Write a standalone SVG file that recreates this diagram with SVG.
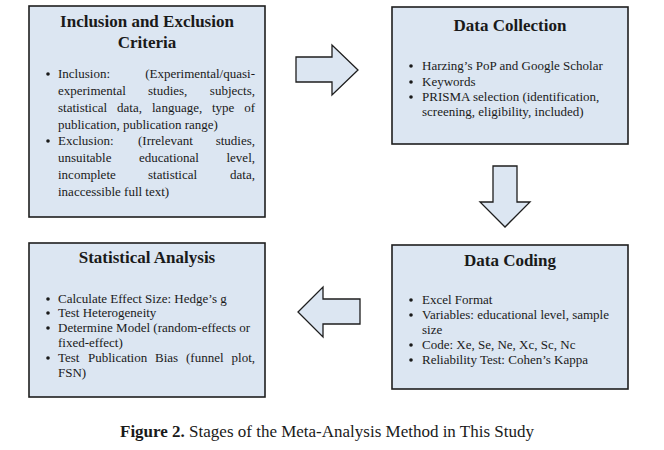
<svg xmlns="http://www.w3.org/2000/svg" width="664" height="450" viewBox="0 0 664 450">
<style>
.box{fill:#dce6f2;stroke:#1e1e1e;stroke-width:1.6}
.arr{fill:#dce6f2;stroke:#1e1e1e;stroke-width:1.3;stroke-linejoin:miter}
text{font-family:"Liberation Serif","Times New Roman",serif;fill:#1a1a1a}
.t{font-size:17px;font-weight:bold;text-anchor:middle}
.b{font-size:13px}
.e{text-anchor:end}
.cap{font-size:17px}
</style>
<rect width="664" height="450" fill="#ffffff"/>
<g id="connectors">
<polygon class="arr" points="296,57 332,57 332,45 358,70 332,95 332,82 296,82"/>
<polygon class="arr" points="493,166 517,166 517,202 530,202 505,227 480,202 493,202"/>
<polygon class="arr" points="298,312 323,287 323,299 360,299 360,324 323,324 323,337"/>
</g>
<g id="inclusion-exclusion">
<rect class="box" x="29" y="6" width="236" height="211"/>
<text class="t" x="147" y="27">Inclusion and Exclusion</text>
<text class="t" x="147" y="48">Criteria</text>
<circle cx="48" cy="74" r="1.8" fill="#1a1a1a"/>
<text class="b" y="78"><tspan x="58">Inclusion:</tspan></text>
<text class="b e" x="255" y="78">(Experimental/quasi-</text>
<text class="b" y="95"><tspan x="58">experimental</tspan><tspan x="148">studies,</tspan></text>
<text class="b e" x="255" y="95">subjects,</text>
<text class="b" y="112"><tspan x="58">statistical</tspan><tspan x="117">data,</tspan><tspan x="152">language,</tspan><tspan x="212">type</tspan></text>
<text class="b e" x="255" y="112">of</text>
<text class="b" x="58" y="129">publication, publication range)</text>
<circle cx="48" cy="141" r="1.8" fill="#1a1a1a"/>
<text class="b" y="145"><tspan x="58">Exclusion:</tspan><tspan x="138">(Irrelevant</tspan></text>
<text class="b e" x="255" y="145">studies,</text>
<text class="b" y="162"><tspan x="58">unsuitable</tspan><tspan x="139">educational</tspan></text>
<text class="b e" x="255" y="162">level,</text>
<text class="b" y="179"><tspan x="58">incomplete</tspan><tspan x="148">statistical</tspan></text>
<text class="b e" x="255" y="179">data,</text>
<text class="b" x="58" y="196">inaccessible full text)</text>
</g>
<g id="data-collection">
<rect class="box" x="392" y="7" width="236" height="137"/>
<text class="t" x="510" y="31">Data Collection</text>
<circle cx="411" cy="66" r="1.8" fill="#1a1a1a"/>
<text class="b" x="422" y="70">Harzing’s PoP and Google Scholar</text>
<circle cx="411" cy="82" r="1.8" fill="#1a1a1a"/>
<text class="b" x="422" y="86">Keywords</text>
<circle cx="411" cy="97" r="1.8" fill="#1a1a1a"/>
<text class="b" x="422" y="101">PRISMA selection (identification,</text>
<text class="b" x="422" y="116">screening, eligibility, included)</text>
</g>
<g id="data-coding">
<rect class="box" x="392" y="245" width="236" height="144"/>
<text class="t" x="510" y="266">Data Coding</text>
<circle cx="411" cy="300" r="1.8" fill="#1a1a1a"/>
<text class="b" x="422" y="304">Excel Format</text>
<circle cx="411" cy="315" r="1.8" fill="#1a1a1a"/>
<text class="b" x="422" y="319">Variables: educational level, sample</text>
<text class="b" x="422" y="334">size</text>
<circle cx="411" cy="345" r="1.8" fill="#1a1a1a"/>
<text class="b" x="422" y="349">Code: Xe, Se, Ne, Xc, Sc, Nc</text>
<circle cx="411" cy="360" r="1.8" fill="#1a1a1a"/>
<text class="b" x="422" y="364">Reliability Test: Cohen’s Kappa</text>
</g>
<g id="statistical-analysis">
<rect class="box" x="29" y="243" width="236" height="154"/>
<text class="t" x="147" y="263">Statistical Analysis</text>
<circle cx="48" cy="299" r="1.8" fill="#1a1a1a"/>
<text class="b" x="58" y="303">Calculate Effect Size: Hedge’s g</text>
<circle cx="48" cy="313" r="1.8" fill="#1a1a1a"/>
<text class="b" x="58" y="317">Test Heterogeneity</text>
<circle cx="48" cy="328" r="1.8" fill="#1a1a1a"/>
<text class="b" x="58" y="332">Determine Model (random-effects or</text>
<text class="b" x="58" y="347">fixed-effect)</text>
<circle cx="48" cy="358" r="1.8" fill="#1a1a1a"/>
<text class="b" y="362"><tspan x="58">Test</tspan><tspan x="88">Publication</tspan><tspan x="155">Bias</tspan><tspan x="186">(funnel</tspan></text>
<text class="b e" x="255" y="362">plot,</text>
<text class="b" x="58" y="377">FSN)</text>
</g>
<g id="caption">
<text class="cap" x="120" y="437"><tspan font-weight="bold">Figure 2.</tspan> Stages of the Meta-Analysis Method in This Study</text>
</g>
</svg>
